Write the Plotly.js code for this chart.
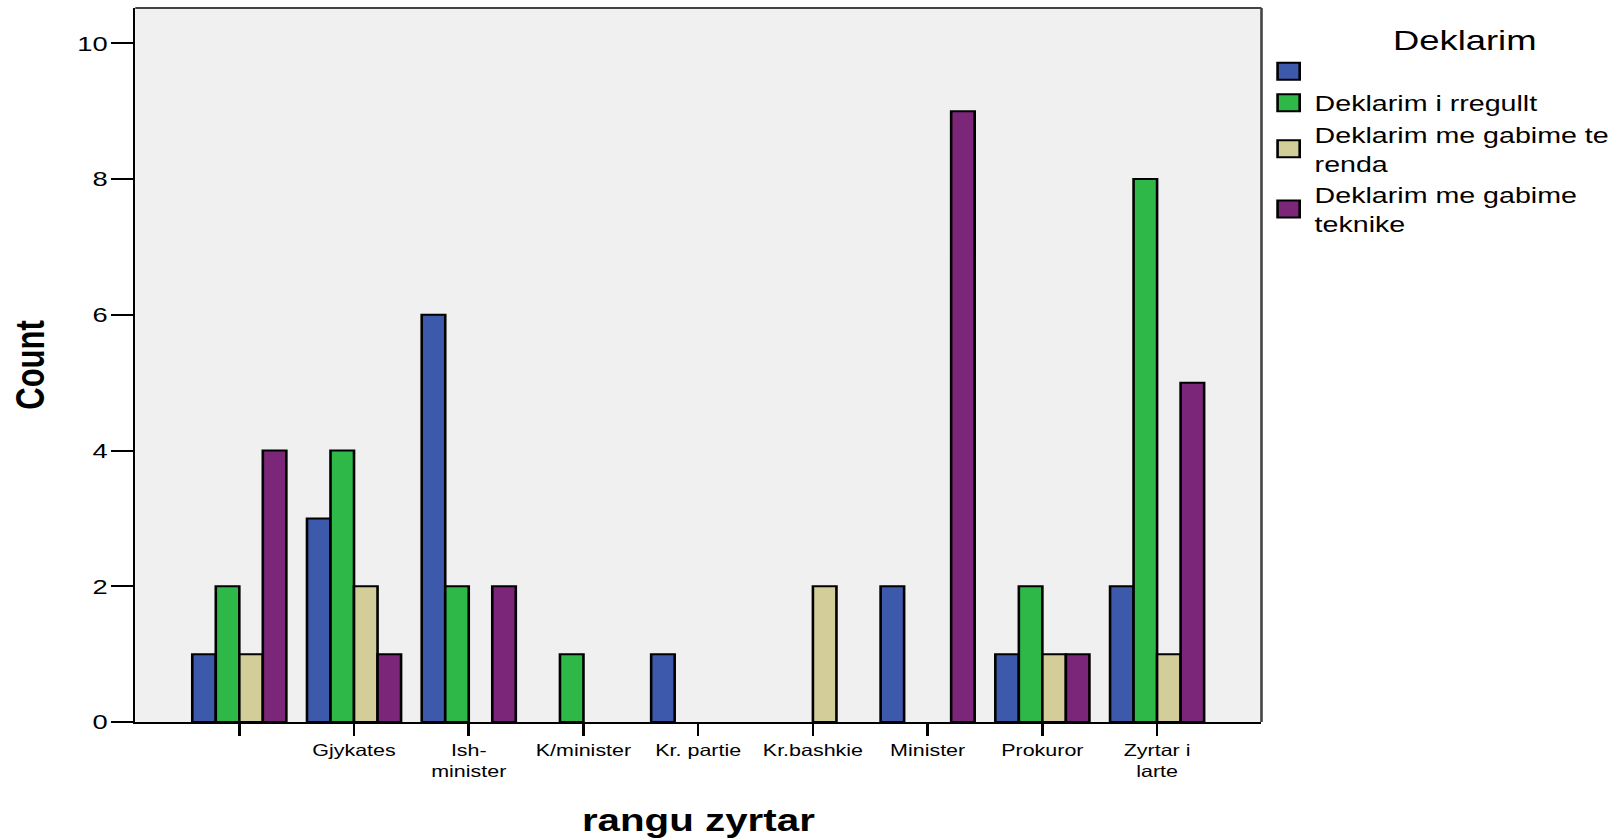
<!DOCTYPE html>
<html>
<head>
<meta charset="utf-8">
<script src="https://cdn.plot.ly/plotly-3.0.1.min.js"></script>
<style>
  html, body { margin: 0; padding: 0; background: #ffffff; overflow: hidden; }
  #wrap { width: 1248px; height: 838px; transform: scaleX(1.3005); transform-origin: 0 0; }
</style>
</head>
<body>
<div id="wrap"><div id="chart"></div></div>
<script>
// Categories of "rangu zyrtar" (first category has an empty label)
const categories = ['', 'Gjykates', 'Ish-<br>minister', 'K/minister', 'Kr. partie', 'Kr.bashkie', 'Minister', 'Prokuror', 'Zyrtar i<br>larte'];

// Series names (Deklarim)
const seriesNames = [' ', 'Deklarim i rregullt', 'Deklarim me gabime te<br>renda', 'Deklarim me gabime<br>teknike'];

// Counts per category
const blankCounts     = [1, 3, 6, 0, 1, 0, 2, 1, 2];
const rregulltCounts  = [2, 4, 2, 1, 0, 0, 0, 2, 8];
const rendaCounts     = [1, 2, 0, 0, 0, 2, 0, 1, 1];
const teknikeCounts   = [4, 1, 2, 0, 0, 0, 9, 1, 5];

const seriesValues = [blankCounts, rregulltCounts, rendaCounts, teknikeCounts];
const seriesColors = ['rgb(61,89,171)', 'rgb(46,184,72)', 'rgb(211,206,153)', 'rgb(124,38,122)'];

const yTicks = [0, 2, 4, 6, 8, 10];

const FONT = 'Liberation Sans, Arial, Helvetica, sans-serif';
const xIdx = categories.map((c, i) => i);

const traces = seriesValues.map((vals, s) => ({
  type: 'bar',
  name: seriesNames[s],
  x: xIdx,
  y: vals.map(v => (v === 0 ? null : v)),
  marker: { color: seriesColors[s], line: { color: '#000000', width: 2 } },
  hoverinfo: 'skip'
}));

const layout = {
  width: 1248,
  height: 838,
  autosize: false,
  margin: { l: 104, r: 278, t: 8, b: 116, autoexpand: false },
  paper_bgcolor: '#ffffff',
  plot_bgcolor: '#f0f0f0',
  font: { family: FONT, color: '#000000' },
  barmode: 'group',
  bargap: 0.18,
  bargroupgap: 0,
  showlegend: true,
  xaxis: {
    range: [-0.907, 8.91],
    tickmode: 'array',
    tickvals: xIdx,
    ticktext: categories,
    ticks: 'outside', ticklen: 12, tickwidth: 2, tickcolor: '#000000',
    showline: true, linecolor: '#000000', linewidth: 2,
    showgrid: false, zeroline: false, automargin: false,
    tickfont: { family: FONT, size: 16.5, color: '#000000' },
    title: { text: 'rangu zyrtar', font: { family: FONT, size: 31, weight: 'bold', color: '#000000' }, standoff: 32 }
  },
  yaxis: {
    range: [0, 10.52],
    tickmode: 'array',
    tickvals: yTicks,
    ticks: 'outside', ticklen: 17, tickwidth: 2, tickcolor: '#000000',
    showline: true, linecolor: '#000000', linewidth: 2,
    showgrid: false, zeroline: false, automargin: false,
    ticklabelstandoff: -2,
    tickfont: { family: FONT, size: 21, color: '#000000' },
    title: { text: 'Count', font: { family: FONT, size: 31, weight: 'bold', color: '#000000' }, standoff: 16 }
  },
  legend: {
    x: 1.001, xanchor: 'left', y: 0.9916, yanchor: 'top',
    bgcolor: 'rgba(0,0,0,0)',
    traceorder: 'normal',
    tracegroupgap: 0,
    font: { family: FONT, size: 22, color: '#000000' },
    title: { text: '&nbsp;&nbsp;&nbsp;&nbsp;&nbsp;Deklarim', side: 'top center', font: { family: FONT, size: 28, color: '#000000' } }
  },
  shapes: [
    { type: 'line', xref: 'paper', yref: 'paper', x0: 0, x1: 1, y0: 1, y1: 1, line: { color: '#444444', width: 2 } },
    { type: 'line', xref: 'paper', yref: 'paper', x0: 1, x1: 1, y0: 0, y1: 1, line: { color: '#444444', width: 2 } }
  ]
};

Plotly.newPlot('chart', traces, layout, { displayModeBar: false, staticPlot: true }).then(gd => {
  gd.querySelectorAll('.legend .legendpoints path').forEach(p => {
    p.setAttribute('d', 'M8.5,8.5H-8.5V-8.5H8.5Z');
  });
});
</script>
</body>
</html>
